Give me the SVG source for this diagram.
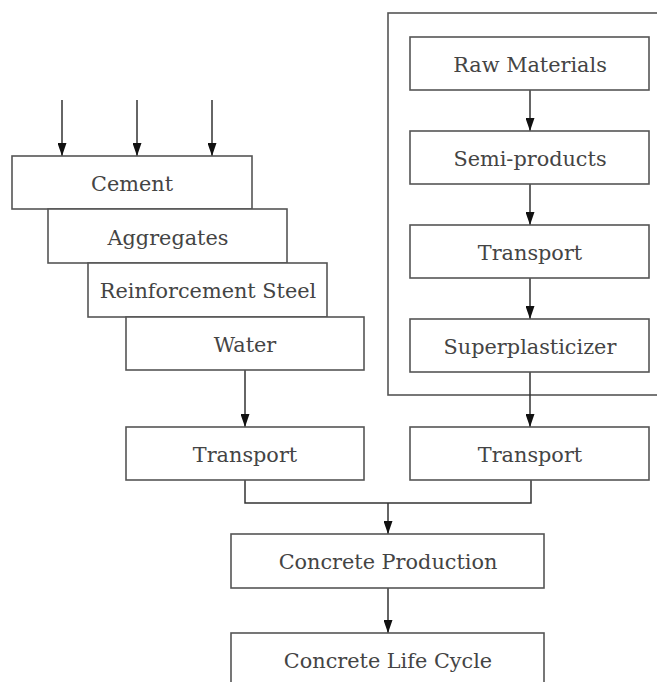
<svg xmlns="http://www.w3.org/2000/svg" width="657" height="682" viewBox="0 0 657 682">
<style>
rect.b{fill:#fff;stroke:#555;stroke-width:1.6}
text{font-family:"DejaVu Serif","Liberation Serif",serif;font-size:20.8px;fill:#444;text-anchor:middle}
.c line,.c polyline{stroke:#333;stroke-width:1.5;fill:none}
</style>
<defs>
<marker id="ah" viewBox="0 0 13 9" refX="13" refY="4.5" markerWidth="13" markerHeight="9" markerUnits="userSpaceOnUse" orient="auto">
<path d="M0,0 L13,4.5 L0,9 z" fill="#111"/>
</marker>
</defs>
<rect x="388" y="13" width="280" height="382" fill="none" stroke="#555" stroke-width="1.6"/>
<g class="c">
<line x1="62" y1="100" x2="62" y2="156" marker-end="url(#ah)"/>
<line x1="137" y1="100" x2="137" y2="156" marker-end="url(#ah)"/>
<line x1="212" y1="100" x2="212" y2="156" marker-end="url(#ah)"/>
<line x1="530" y1="90" x2="530" y2="131" marker-end="url(#ah)"/>
<line x1="530" y1="184" x2="530" y2="225" marker-end="url(#ah)"/>
<line x1="530" y1="278" x2="530" y2="319" marker-end="url(#ah)"/>
<line x1="530" y1="372" x2="530" y2="427" marker-end="url(#ah)"/>
<line x1="245" y1="370" x2="245" y2="427" marker-end="url(#ah)"/>
<polyline points="245,480 245,503 531,503 531,480"/>
<line x1="388" y1="503" x2="388" y2="534" marker-end="url(#ah)"/>
<line x1="388" y1="588" x2="388" y2="633" marker-end="url(#ah)"/>
</g>
<g id="cement"><rect class="b" x="12" y="156" width="240" height="53"/><text x="132" y="191">Cement</text></g>
<g id="aggregates"><rect class="b" x="48" y="209" width="239" height="54"/><text x="168" y="245">Aggregates</text></g>
<g id="steel"><rect class="b" x="88" y="263" width="239" height="54"/><text x="208" y="298">Reinforcement Steel</text></g>
<g id="water"><rect class="b" x="126" y="317" width="238" height="53"/><text x="245" y="352">Water</text></g>
<g id="raw"><rect class="b" x="410" y="37" width="239" height="53"/><text x="530" y="72">Raw Materials</text></g>
<g id="semi"><rect class="b" x="410" y="131" width="239" height="53"/><text x="530" y="166">Semi-products</text></g>
<g id="transport1"><rect class="b" x="410" y="225" width="239" height="53"/><text x="530" y="260">Transport</text></g>
<g id="super"><rect class="b" x="410" y="319" width="239" height="53"/><text x="530" y="354">Superplasticizer</text></g>
<g id="transportL"><rect class="b" x="126" y="427" width="238" height="53"/><text x="245" y="462">Transport</text></g>
<g id="transportR"><rect class="b" x="410" y="427" width="239" height="53"/><text x="530" y="462">Transport</text></g>
<g id="production"><rect class="b" x="231" y="534" width="313" height="54"/><text x="388" y="569">Concrete Production</text></g>
<g id="lifecycle"><rect class="b" x="231" y="633" width="313" height="60"/><text x="388" y="668">Concrete Life Cycle</text></g>
</svg>
